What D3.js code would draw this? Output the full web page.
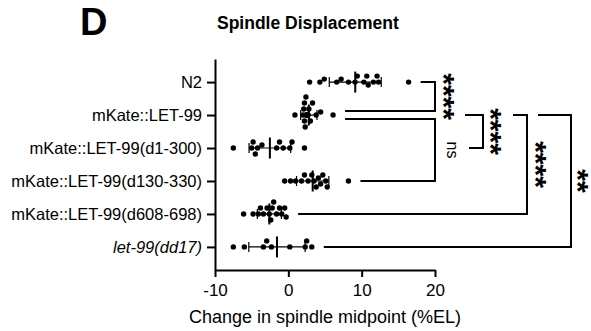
<!DOCTYPE html>
<html><head><meta charset="utf-8">
<script src="https://cdn.jsdelivr.net/npm/d3@7"></script>
<style>
html,body{margin:0;padding:0;background:#fff;}
svg{display:block;font-family:"Liberation Sans",Arial,sans-serif;}
</style></head>
<body><svg id="c" width="591" height="331"></svg>
<script>
// ---- data ----
const categories = ["N2","mKate::LET-99","mKate::LET-99(d1-300)","mKate::LET-99(d130-330)","mKate::LET-99(d608-698)","let-99(dd17)"];
const n2Values      = [2.9, 4.3, 4.9, 6.6, 7.2, 8.2, 9.1, 9.4, 10.3, 10.7, 10.9, 11.6, 12.1, 12.3, 16.4];
const let99Values   = [0.9, 2.0, 2.1, 2.2, 2.2, 2.3, 2.4, 2.4, 2.5, 2.6, 2.6, 2.7, 2.8, 3.0, 3.3, 3.8, 4.4, 6.1];
const d1_300Values  = [-7.5, -5.0, -4.8, -4.5, -4.2, -3.6, -1.6, -1.2, -0.7, 0.2, 0.5, 2.2];
const d130_330Values= [-0.5, 0.3, 1.0, 1.8, 2.2, 2.7, 3.2, 3.5, 3.8, 4.1, 4.4, 4.7, 5.1, 5.3, 8.2];
const d608_698Values= [-6.1, -4.8, -4.1, -3.8, -3.4, -2.9, -2.6, -2.4, -2.2, -2.0, -1.6, -1.2, -0.9, -0.5, -0.3];
const dd17Values    = [-7.5, -6.0, -3.4, -2.95, -2.3, 0.2, 2.3, 2.5, 3.2];
const xTicks = [-10, 0, 10, 20];
const xTickLabels = ["-10", "0", "10", "20"];
const comparisons = [
  ["N2", "mKate::LET-99", "****"],
  ["mKate::LET-99", "mKate::LET-99(d130-330)", "ns"],
  ["mKate::LET-99", "mKate::LET-99(d1-300)", "****"],
  ["mKate::LET-99", "mKate::LET-99(d608-698)", "****"],
  ["mKate::LET-99", "let-99(dd17)", "**"]
];
const panelLetter = "D";
const chartTitle = "Spindle Displacement";
const xTitle = "Change in spindle midpoint (%EL)";

const seriesValues = [n2Values, let99Values, d1_300Values, d130_330Values, d608_698Values, dd17Values];
const groups = categories.map((c, i) => ({cat: c, vals: seriesValues[i]}));

// ---- layout ----
const svg = d3.select("#c");
const x = d3.scaleLinear().domain([-10, 20]).range([215, 435]);
const y = d3.scalePoint().domain(categories).range([59, 270]).padding(0.7);
const R = 2.7;

// panel letter & title
svg.append("text").attr("x", 80).attr("y", 35).attr("font-size", 38).attr("font-weight", "bold").text(panelLetter);
svg.append("text").attr("x", 217).attr("y", 29).attr("font-size", 17.5).attr("font-weight", "bold").text(chartTitle);

// axes
const gx = svg.append("g").attr("transform", "translate(0,270)")
  .call(d3.axisBottom(x).tickValues(xTicks).tickFormat((d, i) => xTickLabels[i]).tickSize(7).tickSizeOuter(0).tickPadding(7));
gx.selectAll("text").attr("font-size", 17).attr("font-family", "Liberation Sans, Arial, sans-serif").attr("fill", "#000");
const gy = svg.append("g").attr("transform", "translate(215,0)")
  .call(d3.axisLeft(y).tickSize(8).tickSizeOuter(0).tickPadding(5));
gy.selectAll("text").attr("font-size", 16.5).attr("font-family", "Liberation Sans, Arial, sans-serif").attr("fill", "#000")
  .attr("font-style", d => d.startsWith("let-99") ? "italic" : "normal");
svg.selectAll(".domain, .tick line").attr("stroke", "#000").attr("stroke-width", 2);

svg.append("text").attr("x", 325).attr("y", 322.5).attr("text-anchor", "middle").attr("font-size", 18).text(xTitle);

// beeswarm offsets
function swarm(vals) {
  const sorted = vals.map((v, i) => ({v, i})).sort((a, b) => a.v - b.v);
  const placed = [];
  const step = 3.0, minD = 4.8;
  const out = new Array(vals.length);
  for (const p of sorted) {
    const px = x(p.v);
    let off = 0;
    for (let k = 0; k < 12; k++) {
      const cand = k === 0 ? 0 : (k % 2 ? -1 : 1) * Math.ceil(k / 2) * step;
      const ok = placed.every(q => (q.px - px) ** 2 + (q.oy - cand) ** 2 >= minD * minD);
      if (ok) { off = cand; break; }
    }
    placed.push({px, oy: off});
    out[p.i] = {px, oy: off};
  }
  return out;
}

groups.forEach(g => {
  const cy = y(g.cat);
  const pts = swarm(g.vals);
  svg.append("g").selectAll("circle").data(pts).join("circle")
    .attr("cx", d => d.px).attr("cy", d => cy + d.oy).attr("r", R).attr("fill", "#000");
  const m = d3.mean(g.vals), sd = d3.deviation(g.vals);
  const eb = svg.append("g").attr("stroke", "#000");
  eb.append("line").attr("x1", x(m - sd)).attr("x2", x(m + sd)).attr("y1", cy).attr("y2", cy).attr("stroke-width", 1.2);
  [m - sd, m + sd].forEach(v => eb.append("line").attr("x1", x(v)).attr("x2", x(v)).attr("y1", cy - 5).attr("y2", cy + 5).attr("stroke-width", 1.2));
  eb.append("line").attr("x1", x(m)).attr("x2", x(m)).attr("y1", cy - 10.5).attr("y2", cy + 10.5).attr("stroke-width", 2);
});

// significance brackets
const maxX = c => x(d3.max(groups.find(g => g.cat === c).vals)) + 12;
const bracketLayout = [
  {vx: 435, lx: 451, top: (a) => [maxX(a), y(a)], bot: (b) => [maxX(b), y(b) - 4]},
  {vx: 435, lx: 451, top: (a) => [maxX(a), y(a) + 4], bot: (b) => [maxX(b), y(b)]},
  {vx: 483, lx: 498, top: (a) => [465, y(a)], bot: (b) => [469, y(b)]},
  {vx: 527, lx: 543, top: (a) => [513, y(a)], bot: (b) => [maxX(b), y(b)]},
  {vx: 571, lx: 585, top: (a) => [538, y(a)], bot: (b) => [maxX(b), y(b)]}
];
comparisons.forEach((c, i) => {
  const L = bracketLayout[i];
  const [tx, ty] = L.top(c[0]);
  const [bx, by] = L.bot(c[1]);
  const p = d3.path();
  p.moveTo(tx, ty); p.lineTo(L.vx, ty); p.lineTo(L.vx, by); p.lineTo(bx, by);
  svg.append("path").attr("d", p.toString()).attr("fill", "none").attr("stroke", "#000").attr("stroke-width", 2);
  const cyy = (ty + by) / 2;
  const isNs = c[2] === "ns";
  svg.append("text").attr("transform", `translate(${L.lx},${cyy}) rotate(90)`)
    .attr("text-anchor", "middle")
    .attr("y", isNs ? "0.27em" : "0.58em")
    .attr("font-size", isNs ? 16 : 30)
    .attr("font-weight", isNs ? "normal" : "bold")
    .text(c[2]);
});
</script></body></html>
